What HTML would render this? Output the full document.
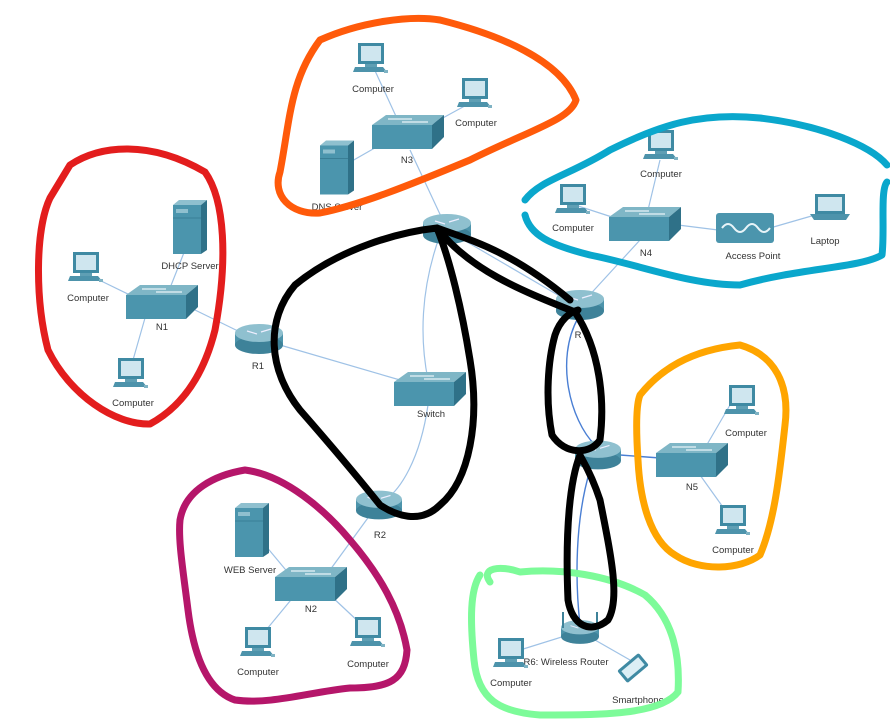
<!DOCTYPE html>
<html><head><meta charset="utf-8"><style>
html,body{margin:0;padding:0;background:#fff;width:890px;height:724px;overflow:hidden}
svg text{font-family:"Liberation Sans",sans-serif;font-size:9.5px;fill:#333;text-anchor:middle}
</style></head><body>
<svg width="890" height="724" viewBox="0 0 890 724" xmlns="http://www.w3.org/2000/svg">
<defs>
<symbol id="pc" viewBox="0 0 36 32">
<rect x="5" y="0" width="26" height="21" fill="#3f8aa3"/><rect x="8" y="3" width="20" height="15" fill="#cfe6ef"/>
<rect x="12" y="21" width="12" height="3" fill="#5f9fb4"/><path d="M2 24 H30 L34 29 H0 Z" fill="#4d93ab"/><rect x="31" y="27" width="4" height="3" fill="#7fb3c4"/>
</symbol>
<symbol id="sw" viewBox="0 0 72 34">
<path d="M0 10 L14 0 H72 L60 10 Z" fill="#7fb6c6"/><rect x="0" y="10" width="60" height="24" fill="#4b95ad"/><path d="M60 10 L72 0 V22 L60 34 Z" fill="#2f7188"/>
<path d="M16 4 H40 M30 7 H56" stroke="#e8f4f8" stroke-width="1.2"/>
</symbol>
<symbol id="rt" viewBox="0 0 48 30">
<rect x="0" y="9" width="48" height="12" fill="#4d94ab"/><ellipse cx="24" cy="21" rx="24" ry="9" fill="#3e8299"/><ellipse cx="24" cy="9" rx="24" ry="9" fill="#8fc0cf"/>
<path d="M12 7 L22 10 M26 8 L36 5" stroke="#eef" stroke-width="1.2"/>
</symbol>
<symbol id="sv" viewBox="0 0 34 54">
<rect x="0" y="5" width="28" height="49" fill="#4b95ad"/><path d="M0 5 L6 0 H34 L28 5 Z" fill="#8fc0cf"/><path d="M28 5 L34 0 V50 L28 54 Z" fill="#2f7188"/>
<rect x="3" y="9" width="12" height="4" fill="#8fc0cf"/><path d="M0 18 H28" stroke="#3a7f96"/>
</symbol>
</defs>
<g stroke="#9fc2e6" stroke-width="1.2" fill="none">
<line x1="371" y1="62" x2="400" y2="125"/><line x1="472" y1="102" x2="430" y2="125"/><line x1="345" y1="165" x2="380" y2="145"/><line x1="410" y1="150" x2="445" y2="225"/>
<line x1="575" y1="205" x2="615" y2="218"/><line x1="660" y1="160" x2="648" y2="210"/><line x1="678" y1="225" x2="718" y2="230"/><line x1="770" y1="228" x2="815" y2="215"/><line x1="640" y1="240" x2="585" y2="300"/>
<line x1="450" y1="232" x2="575" y2="305"/><path d="M440 235 C420 290 420 340 428 380"/>
<line x1="95" y1="278" x2="130" y2="295"/><line x1="185" y1="250" x2="170" y2="288"/><line x1="145" y1="318" x2="133" y2="360"/><line x1="195" y1="310" x2="240" y2="332"/>
<line x1="280" y1="345" x2="400" y2="380"/><path d="M428 405 C420 460 400 490 385 500"/>
<line x1="370" y1="515" x2="330" y2="570"/><line x1="265" y1="545" x2="290" y2="575"/><line x1="295" y1="595" x2="262" y2="635"/><line x1="330" y1="595" x2="362" y2="625"/>
<line x1="730" y1="405" x2="705" y2="448"/><line x1="700" y1="475" x2="725" y2="510"/>
<line x1="520" y1="650" x2="568" y2="635"/><line x1="595" y1="640" x2="630" y2="660"/>
</g>
<g stroke="#4a7fd4" stroke-width="1.4" fill="none">
<path d="M578 318 C555 360 570 420 595 445"/><line x1="620" y1="455" x2="660" y2="458"/><path d="M590 470 C575 520 575 580 580 625"/>
</g>
<use href="#pc" x="353" y="43" width="36" height="32"/><text x="373" y="92">Computer</text>
<use href="#pc" x="457" y="78" width="36" height="32"/><text x="476" y="126">Computer</text>
<use href="#sw" x="372" y="115" width="72" height="34"/><text x="407" y="163">N3</text>
<use href="#sv" x="320" y="140" width="34" height="55"/><text x="337" y="210">DNS Server</text>
<use href="#rt" x="423" y="214" width="48" height="30"/>
<use href="#pc" x="643" y="130" width="36" height="32"/><text x="661" y="177">Computer</text>
<use href="#pc" x="555" y="184" width="36" height="32"/><text x="573" y="231">Computer</text>
<use href="#sw" x="609" y="207" width="72" height="34"/><text x="646" y="256">N4</text>
<rect x="716" y="213" width="58" height="30" rx="3" fill="#4b95ad"/><path d="M722 228 q6 -8 12 0 q6 8 12 0 q6 -8 12 0 q6 8 12 0" stroke="#e8f4f8" stroke-width="2" fill="none"/><text x="753" y="259">Access Point</text>
<rect x="815" y="194" width="30" height="20" fill="#3f8aa3"/><rect x="818" y="197" width="24" height="14" fill="#cfe6ef"/><path d="M810 214 H850 L846 220 H814 Z" fill="#4d93ab"/><text x="825" y="244">Laptop</text>
<use href="#rt" x="556" y="290" width="48" height="30"/><text x="578" y="338">R</text>
<use href="#sv" x="173" y="200" width="34" height="54"/><text x="190" y="269">DHCP Server</text>
<use href="#pc" x="68" y="252" width="36" height="32"/><text x="88" y="301">Computer</text>
<use href="#sw" x="126" y="285" width="72" height="34"/><text x="162" y="330">N1</text>
<use href="#pc" x="113" y="358" width="36" height="32"/><text x="133" y="406">Computer</text>
<use href="#rt" x="235" y="324" width="48" height="30"/><text x="258" y="369">R1</text>
<use href="#sw" x="394" y="372" width="72" height="34"/><text x="431" y="417">Switch</text>
<use href="#rt" x="575" y="440" width="46" height="30"/>
<use href="#sw" x="656" y="443" width="72" height="34"/><text x="692" y="490">N5</text>
<use href="#pc" x="724" y="385" width="36" height="32"/><text x="746" y="436">Computer</text>
<use href="#pc" x="715" y="505" width="36" height="32"/><text x="733" y="553">Computer</text>
<use href="#rt" x="356" y="490" width="46" height="30"/><text x="380" y="538">R2</text>
<use href="#sv" x="235" y="503" width="34" height="54"/><text x="250" y="573">WEB Server</text>
<use href="#sw" x="275" y="567" width="72" height="34"/><text x="311" y="612">N2</text>
<use href="#pc" x="240" y="627" width="36" height="32"/><text x="258" y="675">Computer</text>
<use href="#pc" x="350" y="617" width="36" height="32"/><text x="368" y="667">Computer</text>
<use href="#rt" x="561" y="620" width="38" height="24"/><path d="M563 628 V612 M597 628 V612" stroke="#3e8299" stroke-width="2"/><text x="566" y="665">R6: Wireless Router</text>
<use href="#pc" x="493" y="638" width="36" height="32"/><text x="511" y="686">Computer</text>
<g transform="translate(633,668) rotate(-40)"><rect x="-14" y="-8" width="28" height="16" rx="2" fill="#3f8aa3"/><rect x="-11" y="-5" width="22" height="10" fill="#dbeef5"/></g><text x="638" y="703">Smartphone</text>
<g fill="none" stroke-linecap="round" stroke-linejoin="round" stroke-width="7">
<path stroke="#e31d1d" d="M70 165 C100 145 150 140 205 172 C225 200 228 260 215 330 C205 370 185 405 150 424 C115 425 70 395 48 350 C35 300 35 230 50 198 Z"/>
<path stroke="#ff5a0a" d="M280 172 C290 120 290 80 320 40 C360 22 410 15 440 20 C500 35 560 60 576 100 C570 120 530 130 470 160 C410 185 360 205 320 213 C290 215 272 195 280 172"/>
<path stroke="#0aa7cc" d="M525 200 C540 180 570 175 610 150 C660 125 700 112 760 118 C820 125 870 145 887 165 M887 182 C880 190 885 230 882 255 C860 268 800 268 740 285 C690 285 640 265 590 255 C550 245 530 235 525 215"/>
<path stroke="#ffa500" d="M640 395 C660 370 690 350 740 345 C775 355 790 385 785 425 C780 470 775 520 760 555 C740 570 700 572 675 555 C650 540 640 500 638 460 C636 430 636 405 640 395"/>
<path stroke="#7dfb99" d="M490 582 C480 568 500 565 520 572 C560 568 610 575 645 595 C675 620 680 660 678 692 C660 715 600 715 540 715 C500 712 478 700 474 660 C470 620 470 590 480 575"/>
<path stroke="#b5166a" d="M180 520 C185 490 215 475 245 470 C285 475 325 510 350 540 C380 575 400 610 407 650 C405 680 390 688 350 688 C310 692 270 705 235 700 C205 690 193 650 188 610 C183 570 178 540 180 520"/>
<path stroke="#000" d="M437 228 C400 232 340 248 295 285 C265 320 268 370 300 410 C335 450 360 480 380 505 C395 515 420 525 440 505 C470 480 480 420 470 360 C462 310 450 260 437 228 C470 270 520 290 575 312 C600 350 605 400 600 440 C590 455 565 455 552 435 C545 400 548 360 555 335 C560 320 570 312 578 310 M437 228 C470 240 510 250 570 300 M580 455 C570 480 565 530 568 600 C572 625 590 635 608 620 C620 600 612 560 600 500 C590 470 582 460 580 455"/>
</g>
</svg>
</body></html>
